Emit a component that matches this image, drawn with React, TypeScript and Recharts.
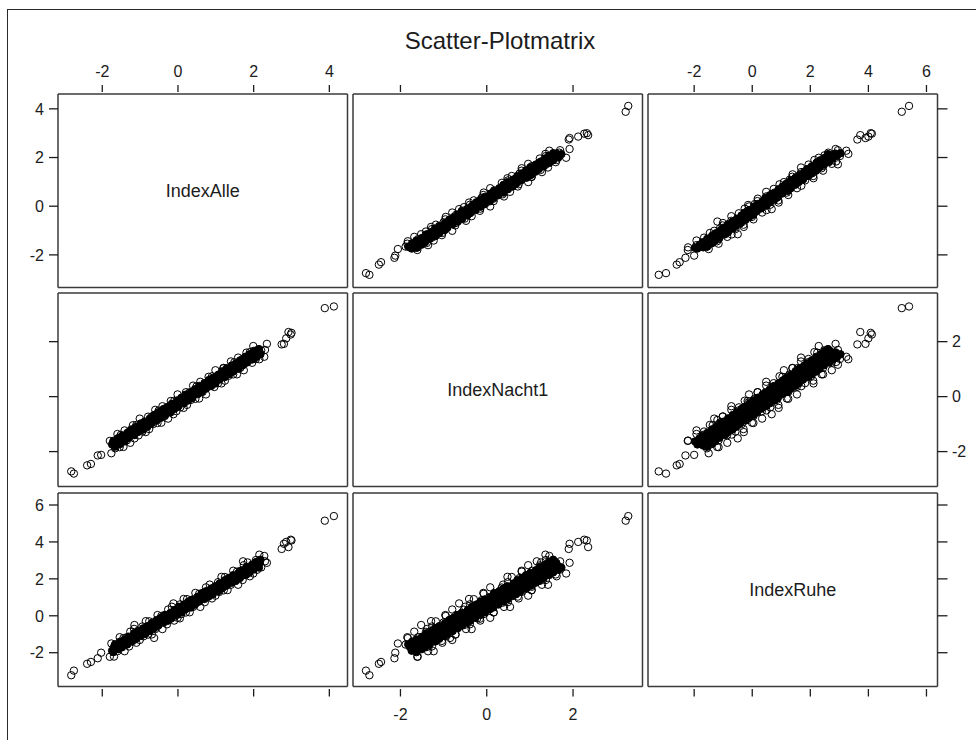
import React from 'react';
import { ScatterChart, Scatter, XAxis, YAxis, ReferenceArea } from 'recharts';

const chartTitle = 'Scatter-Plotmatrix';
const variableNames = ['IndexAlle', 'IndexNacht1', 'IndexRuhe'];

// dense core of the cloud (drawn solid, as the overlapping circles are in the original)
const coreAlle = [-1.74, -1.69, -1.61, -1.57, -1.5, -1.45, -1.37, -1.33, -1.26, -1.21, -1.14, -1.07, -1.03, -0.96, -0.91, -0.83, -0.78, -0.73, -0.66, -0.59, -0.55, -0.48, -0.41, -0.37, -0.3, -0.25, -0.17, -0.12, -0.07, 0.01, 0.06, 0.11, 0.18, 0.25, 0.29, 0.36, 0.43, 0.47, 0.54, 0.61, 0.65, 0.72, 0.79, 0.83, 0.9, 0.97, 1.01, 1.08, 1.15, 1.19, 1.26, 1.33, 1.37, 1.44, 1.51, 1.55, 1.62, 1.69, 1.73, 1.8, 1.87, 1.91, 1.98, 2.05, 2.09, 2.16];
const coreNacht1 = [-1.74, -1.78, -1.66, -1.64, -1.51, -1.56, -1.46, -1.36, -1.42, -1.28, -1.26, -1.16, -1.18, -1.03, -1.09, -0.98, -0.96, -0.83, -0.9, -0.76, -0.69, -0.72, -0.6, -0.59, -0.45, -0.5, -0.41, -0.31, -0.36, -0.22, -0.21, -0.1, -0.12, 0.03, -0.04, 0.08, 0.1, 0.22, 0.16, 0.3, 0.37, 0.33, 0.46, 0.47, 0.6, 0.56, 0.65, 0.75, 0.69, 0.84, 0.85, 0.95, 0.93, 1.09, 1.02, 1.13, 1.16, 1.28, 1.21, 1.35, 1.43, 1.39, 1.51, 1.53, 1.66, 1.61];
const coreRuhe = [-1.89, -1.69, -1.7, -1.58, -1.64, -1.45, -1.39, -1.4, -1.17, -1.21, -1.08, -1.11, -0.95, -1.0, -0.78, -0.75, -0.64, -0.65, -0.46, -0.51, -0.43, -0.26, -0.26, -0.14, -0.2, -0.01, 0.05, 0.04, 0.27, 0.23, 0.36, 0.33, 0.49, 0.44, 0.66, 0.69, 0.8, 0.79, 0.98, 0.93, 1.01, 1.18, 1.18, 1.3, 1.24, 1.43, 1.49, 1.48, 1.71, 1.67, 1.8, 1.77, 1.93, 1.88, 2.1, 2.13, 2.24, 2.23, 2.42, 2.37, 2.45, 2.62, 2.62, 2.74, 2.68, 2.87];

const core2Alle = [-1.71, -1.66, -1.58, -1.53, -1.48, -1.41, -1.34, -1.3, -1.23, -1.16, -1.11, -1.06, -0.99, -0.92, -0.88, -0.81, -0.74, -0.7, -0.63, -0.56, -0.52, -0.45, -0.38, -0.34, -0.27, -0.2, -0.16, -0.09, -0.02, 0.02, 0.09, 0.16, 0.2, 0.27, 0.34, 0.38, 0.45, 0.52, 0.56, 0.63, 0.7, 0.74, 0.81, 0.88, 0.92, 0.99, 1.06, 1.1, 1.17, 1.24, 1.28, 1.35, 1.42, 1.46, 1.53, 1.6, 1.64, 1.71, 1.78, 1.82, 1.89, 1.96, 2.0, 2.07, 2.14, 2.18];
const core2Nacht1 = [-1.63, -1.82, -1.51, -1.73, -1.43, -1.63, -1.32, -1.5, -1.19, -1.4, -1.1, -1.29, -0.98, -1.2, -0.91, -1.1, -0.79, -0.97, -0.67, -0.87, -0.57, -0.77, -0.45, -0.67, -0.38, -0.58, -0.26, -0.44, -0.14, -0.34, -0.04, -0.24, 0.07, -0.14, 0.15, -0.05, 0.27, 0.09, 0.39, 0.18, 0.49, 0.29, 0.6, 0.39, 0.68, 0.48, 0.79, 0.62, 0.92, 0.71, 1.02, 0.82, 1.13, 0.91, 1.21, 1.01, 1.32, 1.14, 1.45, 1.24, 1.54, 1.35, 1.66, 1.44, 1.73, 1.54];
const core2Ruhe = [-1.97, -1.55, -1.81, -1.4, -1.71, -1.28, -1.55, -1.13, -1.39, -0.95, -1.25, -0.83, -1.09, -0.68, -0.99, -0.56, -0.83, -0.41, -0.67, -0.23, -0.53, -0.11, -0.37, 0.04, -0.27, 0.16, -0.11, 0.31, 0.05, 0.49, 0.19, 0.61, 0.35, 0.76, 0.45, 0.88, 0.61, 1.03, 0.77, 1.21, 0.91, 1.33, 1.07, 1.48, 1.17, 1.6, 1.33, 1.75, 1.49, 1.93, 1.63, 2.05, 1.79, 2.2, 1.89, 2.32, 2.05, 2.47, 2.21, 2.65, 2.35, 2.77, 2.51, 2.92, 2.61, 3.04];

// fringe of the cloud (open circles)
const edgeAlle = [-1.8, -1.76, -1.69, -1.66, -1.6, -1.54, -1.51, -1.44, -1.41, -1.35, -1.29, -1.26, -1.19, -1.16, -1.1, -1.04, -1.01, -0.94, -0.91, -0.85, -0.79, -0.76, -0.69, -0.66, -0.6, -0.54, -0.51, -0.44, -0.41, -0.35, -0.29, -0.26, -0.19, -0.16, -0.1, -0.04, -0.01, 0.06, 0.09, 0.15, 0.21, 0.24, 0.31, 0.34, 0.4, 0.46, 0.49, 0.56, 0.59, 0.65, 0.71, 0.74, 0.81, 0.84, 0.9, 0.96, 0.99, 1.06, 1.09, 1.15, 1.21, 1.24, 1.31, 1.34, 1.4, 1.46, 1.49, 1.56, 1.59, 1.65, 1.71, 1.74, 1.81, 1.84, 1.9, 1.96, 1.99, 2.06, 2.09, 2.15];
const edgeNacht1 = [-1.61, -2.06, -1.6, -1.88, -1.36, -1.84, -1.39, -1.83, -1.23, -1.59, -1.27, -1.68, -1.04, -1.38, -1.03, -1.41, -0.8, -1.27, -0.95, -1.29, -0.73, -1.18, -0.72, -1.0, -0.48, -0.96, -0.51, -0.95, -0.35, -0.71, -0.39, -0.8, -0.16, -0.5, -0.15, -0.53, 0.08, -0.39, -0.07, -0.41, 0.16, -0.3, 0.16, -0.12, 0.4, -0.08, 0.37, -0.07, 0.54, 0.17, 0.49, 0.08, 0.72, 0.38, 0.74, 0.35, 0.96, 0.49, 0.81, 0.48, 1.04, 0.58, 1.04, 0.76, 1.28, 0.81, 1.25, 0.81, 1.42, 1.05, 1.37, 0.96, 1.6, 1.26, 1.62, 1.23, 1.84, 1.37, 1.69, 1.36];
const edgeRuhe = [-2.22, -1.5, -2.21, -1.56, -1.92, -1.16, -1.69, -1.21, -1.92, -1.16, -1.66, -0.86, -1.36, -0.71, -1.46, -0.87, -1.31, -0.58, -1.11, -0.29, -1.02, -0.3, -1.01, -0.36, -0.72, 0.04, -0.49, -0.01, -0.72, 0.04, -0.46, 0.34, -0.16, 0.49, -0.26, 0.33, -0.11, 0.62, 0.09, 0.91, 0.18, 0.9, 0.19, 0.84, 0.48, 1.24, 0.71, 1.19, 0.48, 1.24, 0.74, 1.54, 1.04, 1.69, 0.94, 1.53, 1.09, 1.82, 1.29, 2.11, 1.38, 2.1, 1.39, 2.04, 1.68, 2.44, 1.91, 2.39, 1.68, 2.44, 1.94, 2.74, 2.24, 2.89, 2.14, 2.73, 2.29, 3.02, 2.49, 3.31];

// isolated points
const outAlle = [-0.63, -1.15, -0.12, 0.05, 1.2, 1.72, 2.2, 2.35, 2.28, 2.3, 2.74, 2.8, 2.86, 2.98, 3.0, 2.92, 3.88, 4.12, -2.82, -2.75, -2.4, -2.3, -2.12, -2.03];
const outNacht1 = [-0.85, -1.52, -0.64, -0.22, 1.04, 1.16, 1.68, 1.92, 1.45, 1.7, 1.9, 1.92, 2.12, 2.26, 2.32, 2.35, 3.22, 3.28, -2.72, -2.8, -2.5, -2.45, -2.14, -2.12];
const outRuhe = [-1.2, -0.5, 0.67, -0.14, 1.57, 2.95, 2.62, 2.87, 3.24, 2.95, 3.62, 3.9, 4.0, 4.12, 4.08, 3.72, 5.15, 5.4, -3.22, -2.97, -2.6, -2.5, -2.3, -2.0];

const xDomains: [number, number][] = [[-3.17, 4.48], [-3.1, 3.61], [-3.59, 6.38]];
const yDomains: [number, number][] = [[-3.34, 4.61], [-3.27, 3.77], [-3.83, 6.65]];
const axisTicks = [[-2, 0, 2, 4], [-2, 0, 2], [-2, 0, 2, 4, 6]];

const coreSets = [
  [...coreAlle, ...core2Alle],
  [...coreNacht1, ...core2Nacht1],
  [...coreRuhe, ...core2Ruhe],
];
const openSets = [
  [...edgeAlle, ...outAlle],
  [...edgeNacht1, ...outNacht1],
  [...edgeRuhe, ...outRuhe],
];

const FONT = '"Liberation Sans", Arial, Helvetica, sans-serif';
const INK = '#1c1c1c';
const FRAME = '#3a3a3a';

const COL_LEFT = [57.5, 353, 648];
const ROW_TOP = [93.5, 293, 493];
const PW = 289.5;
const PH = 193.5;
const MX = 60;
const MY = 45;
const AX = 1; // axis band thickness (must be > 0 for recharts to draw the axis)

function pairs(xs: number[], ys: number[]) {
  return xs.map((x, i) => ({ x, y: ys[i] }));
}

type Side = 'top' | 'bottom' | 'left' | 'right';

function tickRenderer(side: Side, showTick: boolean, showLabel: boolean) {
  return (props: any) => {
    const { x, y, payload } = props;
    if (!showTick) return <g />;
    const label = String(payload.value);
    const tp = { fontFamily: FONT, fontSize: 16, fill: INK };
    if (side === 'top') {
      return (
        <g>
          <line x1={x} x2={x} y1={y - 2} y2={y - 9} stroke={INK} strokeWidth={1.3} />
          {showLabel && (
            <text x={x} y={y - 17.5} textAnchor="middle" {...tp}>
              {label}
            </text>
          )}
        </g>
      );
    }
    if (side === 'bottom') {
      return (
        <g>
          <line x1={x} x2={x} y1={y + 2.5} y2={y + 10} stroke={INK} strokeWidth={1.3} />
          {showLabel && (
            <text x={x} y={y + 33.5} textAnchor="middle" {...tp}>
              {label}
            </text>
          )}
        </g>
      );
    }
    if (side === 'left') {
      return (
        <g>
          <line x1={x - 9} x2={x} y1={y} y2={y} stroke={INK} strokeWidth={1.3} />
          {showLabel && (
            <text x={x - 14} y={y} dy="0.36em" textAnchor="end" {...tp}>
              {label}
            </text>
          )}
        </g>
      );
    }
    return (
      <g>
        <line x1={x} x2={x + 10} y1={y} y2={y} stroke={INK} strokeWidth={1.3} />
        {showLabel && (
          <text x={x + 14.5} y={y} dy="0.36em" textAnchor="start" {...tp}>
            {label}
          </text>
        )}
      </g>
    );
  };
}

const openShape = (p: any) => (
  <circle cx={p.cx} cy={p.cy} r={3.7} fill="none" stroke="#000" strokeWidth={1} />
);
const coreShape = (p: any) => (
  <circle cx={p.cx} cy={p.cy} r={3.7} fill="#000" stroke="#000" strokeWidth={1} />
);

function Panel({ row, col }: { row: number; col: number }) {
  const xd = xDomains[col];
  const yd = yDomains[row];
  const diag = row === col;
  const axisLine = { stroke: FRAME, strokeWidth: 1.5 };
  return (
    <div style={{ position: 'absolute', left: COL_LEFT[col] - MX, top: ROW_TOP[row] - MY }}>
      <ScatterChart
        width={PW + 2 * MX}
        height={PH + 2 * MY}
        margin={{ top: MY - AX, right: MX - AX, bottom: MY - AX, left: MX - AX }}
      >
        <XAxis
          xAxisId="b"
          orientation="bottom"
          type="number"
          dataKey="x"
          domain={xd}
          allowDataOverflow
          ticks={axisTicks[col]}
          interval={0}
          height={AX}
          tickSize={0}
          tickMargin={0}
          tickLine={false}
          axisLine={axisLine}
          tick={tickRenderer('bottom', row === 2, row === 2 && col === 1)}
        />
        <XAxis
          xAxisId="t"
          orientation="top"
          type="number"
          dataKey="x"
          domain={xd}
          allowDataOverflow
          ticks={axisTicks[col]}
          interval={0}
          height={AX}
          tickSize={0}
          tickMargin={0}
          tickLine={false}
          axisLine={axisLine}
          tick={tickRenderer('top', row === 0, row === 0 && col !== 1)}
        />
        <YAxis
          yAxisId="l"
          orientation="left"
          type="number"
          dataKey="y"
          domain={yd}
          allowDataOverflow
          ticks={axisTicks[row]}
          interval={0}
          width={AX}
          tickSize={0}
          tickMargin={0}
          tickLine={false}
          axisLine={axisLine}
          tick={tickRenderer('left', col === 0, col === 0 && row !== 1)}
        />
        <YAxis
          yAxisId="r"
          orientation="right"
          type="number"
          dataKey="y"
          domain={yd}
          allowDataOverflow
          ticks={axisTicks[row]}
          interval={0}
          width={AX}
          tickSize={0}
          tickMargin={0}
          tickLine={false}
          axisLine={axisLine}
          tick={tickRenderer('right', col === 2, col === 2 && row === 1)}
        />
        {diag && (
          <ReferenceArea
            xAxisId="b"
            yAxisId="l"
            x1={xd[0]}
            x2={xd[1]}
            y1={yd[0]}
            y2={yd[1]}
            fill="none"
            stroke="none"
            label={{ value: variableNames[row], position: 'center', fontSize: 18, fontFamily: FONT, fill: INK }}
          />
        )}
        {!diag && (
          <Scatter
            xAxisId="b"
            yAxisId="l"
            data={pairs(openSets[col], openSets[row])}
            shape={openShape}
            isAnimationActive={false}
          />
        )}
        {!diag && (
          <Scatter
            xAxisId="b"
            yAxisId="l"
            data={pairs(coreSets[col], coreSets[row])}
            shape={coreShape}
            isAnimationActive={false}
          />
        )}
      </ScatterChart>
    </div>
  );
}

export default function App() {
  const cells: React.ReactNode[] = [];
  for (let r = 0; r < 3; r++) {
    for (let c = 0; c < 3; c++) {
      cells.push(<Panel key={`${r}-${c}`} row={r} col={c} />);
    }
  }
  return (
    <div style={{ position: 'absolute', left: 0, top: 0, width: 976, height: 740, background: '#fff', overflow: 'hidden' }}>
      <svg width={976} height={740} style={{ position: 'absolute', left: 0, top: 0 }}>
        <line x1={7.5} x2={7.5} y1={9} y2={740} stroke="#2a2a2a" strokeWidth={1} />
        <line x1={7} x2={976} y1={9.5} y2={9.5} stroke="#2a2a2a" strokeWidth={1} />
        <text x={500} y={49} textAnchor="middle" fontFamily={FONT} fontSize={24} fill={INK}>
          {chartTitle}
        </text>
      </svg>
      {cells}
    </div>
  );
}
